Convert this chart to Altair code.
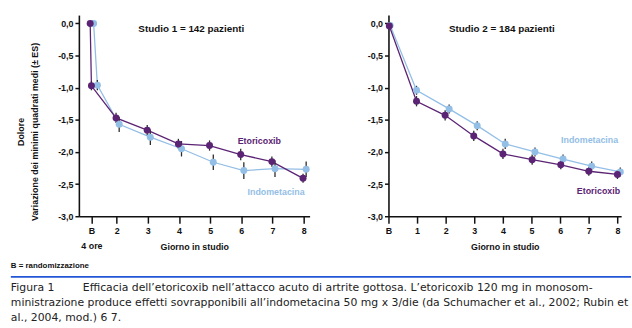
import altair as alt
import pandas as pd

PURPLE = "#5b2374"
BLUE = "#93bee6"
ERR = "#2b2b2b"
FONT = "Liberation Sans"

series_names = ["Indometacina", "Etoricoxib"]

# ---- Studio 1 ----
s1_eto_x = [1.15, 1.19, 1.98, 2.98, 3.98, 4.98, 5.98, 6.98, 7.98]
s1_eto_y = [0.0, -0.97, -1.47, -1.66, -1.875, -1.90, -2.04, -2.15, -2.41]
s1_eto_e = [0.0, 0.07, 0.08, 0.08, 0.08, 0.08, 0.09, 0.08, 0.07]
s1_ind_x = [1.26, 1.38, 2.08, 3.08, 4.08, 5.10, 6.08, 7.08, 8.08]
s1_ind_y = [0.0, -0.96, -1.57, -1.77, -1.95, -2.16, -2.29, -2.26, -2.27]
s1_ind_e = [0.0, 0.08, 0.12, 0.12, 0.12, 0.12, 0.13, 0.13, 0.12]
s1_ticks = [1.19, 2, 3, 4, 5, 6, 7, 8]

# ---- Studio 2 ----
s2_eto_x = [0.03, 0.98, 1.98, 2.98, 4.0, 5.02, 6.02, 7.0, 8.0]
s2_eto_y = [-0.04, -1.21, -1.43, -1.75, -2.03, -2.12, -2.20, -2.30, -2.35]
s2_eto_e = [0.05, 0.08, 0.08, 0.08, 0.08, 0.08, 0.07, 0.07, 0.07]
s2_ind_x = [0.06, 0.98, 2.12, 3.10, 4.08, 5.12, 6.10, 7.10, 8.10]
s2_ind_y = [-0.03, -1.04, -1.33, -1.59, -1.875, -2.00, -2.11, -2.22, -2.31]
s2_ind_e = [0.04, 0.07, 0.07, 0.07, 0.08, 0.07, 0.07, 0.07, 0.07]
s2_ticks = [0, 1, 2, 3, 4, 5, 6, 7, 8]

y_ticks = [0.0, -0.5, -1.0, -1.5, -2.0, -2.5, -3.0]

footnote = "B = randomizzazione"
caption_label = "Figura 1"
caption_lines = [
    "Efficacia dell\u2019etoricoxib nell\u2019attacco acuto di artrite gottosa. L\u2019etoricoxib 120 mg in monosom-",
    "ministrazione produce effetti sovrapponibili all\u2019indometacina 50 mg x 3/die (da Schumacher et al., 2002; Rubin et",
    "al., 2004, mod.) 6 7.",
]


def frame(ex, ey, ee, ix, iy, ie):
    rows = []
    for x, y, e in zip(ix, iy, ie):
        rows.append({"x": x, "y": y, "lo": y - e, "hi": y + e, "s": "Indometacina"})
    for x, y, e in zip(ex, ey, ee):
        rows.append({"x": x, "y": y, "lo": y - e, "hi": y + e, "s": "Etoricoxib"})
    return pd.DataFrame(rows)


ylabel = "(datum.value < 0 ? '-' : '') + replace(format(abs(datum.value), '.1f'), '.', ',')"


def text_layer(txt, x, y, **kw):
    return alt.Chart(pd.DataFrame({"t": [txt]})).mark_text(**kw).encode(
        text="t:N", x=alt.value(x), y=alt.value(y)
    )


def panel(df, xdom, ticks, width, title, ytitle, leg, first_label, extra=()):
    color = alt.Color("s:N", scale=alt.Scale(domain=series_names, range=[BLUE, PURPLE]), legend=None)
    xaxis = alt.Axis(
        values=ticks, tickCount=20, title="Giorno in studio", grid=False, tickSize=7, labelPadding=4,
        labelExpr=first_label, labelLineHeight=15, labelFontSize=9, labelFontWeight="bold",
        titleY=31, titleBaseline="middle", titleFontSize=9, titleFontWeight="bold",
        labelFlush=False, labelOverlap=False,
    )
    yargs = dict(values=y_ticks, tickCount=20, grid=False, tickSize=4, labelPadding=2, labelExpr=ylabel,
                 labelFontSize=9, labelFontWeight="bold", labelOverlap=False, labelFlush=False)
    if ytitle:
        yaxis = alt.Axis(title=ytitle, titleAngle=-90, titleX=-54, titleY=118, titleBaseline="bottom",
                         titleAlign="center", titleLineHeight=14, titleFontSize=9, titleFontWeight="bold",
                         **yargs)
    else:
        yaxis = alt.Axis(title=None, **yargs)
    x = alt.X("x:Q", scale=alt.Scale(domain=xdom, nice=False, zero=False), axis=xaxis)
    y = alt.Y("y:Q", scale=alt.Scale(domain=[-3.0, 0.13], nice=False, zero=False), axis=yaxis)
    base = alt.Chart(df)
    order = alt.Order("s:N", sort="descending")
    lines = base.mark_line(strokeWidth=1.3).encode(x=x, y=y, color=color, detail="s:N")
    errs = base.mark_rule(color=ERR, strokeWidth=1.3).encode(x=x, y="lo:Q", y2="hi:Q")
    pts = base.mark_circle(size=50, opacity=1).encode(x=x, y=y, color=color, order=order)
    ttl = text_layer(title, width / 2 - 3, 14, font=FONT, fontSize=10, fontWeight="bold", color="#111")
    texts = [text_layer(n, px, py, font=FONT, fontSize=9, fontWeight="bold", color=c) for n, c, px, py in leg]
    return alt.layer(lines, errs, pts, ttl, *texts, *extra).properties(width=width, height=204)


df1 = frame(s1_eto_x, s1_eto_y, s1_eto_e, s1_ind_x, s1_ind_y, s1_ind_e)
df2 = frame(s2_eto_x, s2_eto_y, s2_eto_e, s2_ind_x, s2_ind_y, s2_ind_e)

# caption area (drawn below the left panel, in pixel offsets from its plot area)
CAP = dict(font="DejaVu Sans", fontSize=11, align="left", baseline="middle", color="#222")
cap_layers = [
    text_layer(footnote, -69, 254, font=FONT, fontSize=8, fontWeight="bold", align="left", color="#111"),
    alt.Chart(pd.DataFrame({"t": ["rule"]})).mark_rule(color="#2356d6", strokeWidth=2).encode(
        x=alt.value(-69), x2=alt.value(560), y=alt.value(265.5)
    ),
    text_layer(caption_label, -69, 277, **CAP),
    text_layer(caption_lines[0], 4, 277, **CAP),
    text_layer(caption_lines[1], -69, 292, **CAP),
    text_layer(caption_lines[2], -69, 307, **CAP),
]

left = panel(
    df1, [0.787, 8.19], s1_ticks, 234, "Studio 1 = 142 pazienti",
    ["Dolore", "Variazione dei minimi quadrati medi (\u00b1 ES)"],
    [("Etoricoxib", PURPLE, 183, 128), ("Indometacina", BLUE, 200, 179)],
    "datum.value < 1.5 ? ['B', '4 ore'] : format(datum.value, '.0f')",
    extra=cap_layers,
)
right = panel(
    df2, [0, 8.13], s2_ticks, 236, "Studio 2 = 184 pazienti", None,
    [("Indometacina", BLUE, 204, 127), ("Etoricoxib", PURPLE, 213, 178)],
    "datum.value < 0.5 ? 'B' : format(datum.value, '.0f')",
)

chart = alt.hconcat(left, right, spacing=80, bounds="flush").properties(
    padding={"left": 10, "top": 13, "right": 0, "bottom": 0},
    background="white",
).configure_view(stroke=None).configure_axis(
    domainColor="#111", domainWidth=1.6, tickColor="#111", tickWidth=1.5,
    labelColor="#111", titleColor="#111", labelFont=FONT, titleFont=FONT,
).configure_text(font=FONT)

chart.save("out.html", embed_options={"renderer": "svg", "actions": False})
